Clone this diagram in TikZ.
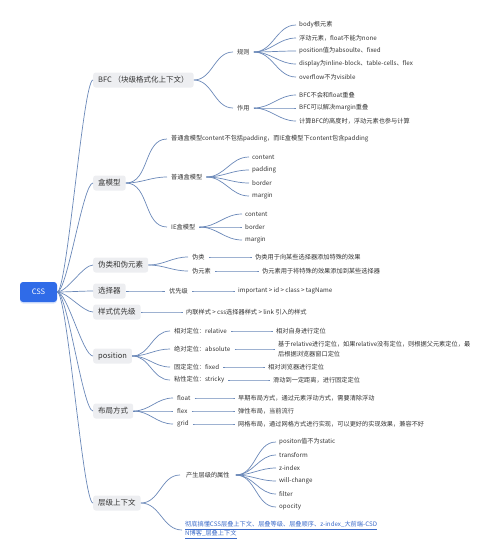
\documentclass[tikz,border=0pt]{standalone}
\usepackage{fontspec}
\usetikzlibrary{shadows}
\setmainfont{Noto Sans CJK SC}
\definecolor{cssblue}{HTML}{2F6BE8}
\definecolor{lonegray}{HTML}{EDEEF1}
\definecolor{txt}{HTML}{333333}
\definecolor{linec}{HTML}{6A88B8}
\definecolor{linkc}{HTML}{3C6BC9}
\begin{document}
\begin{tikzpicture}[x=1pt,y=-1pt,
  rootbox/.style={fill=cssblue,rounded corners=3pt,text=white,minimum width=37pt,minimum height=20pt,inner sep=0pt,font=\fontsize{7.5}{9}\selectfont,drop shadow={shadow xshift=0pt,shadow yshift=-1.5pt,opacity=0.18,fill=cssblue}},
  lone/.style={fill=lonegray,rounded corners=2.5pt,text=txt,inner xsep=5pt,inner ysep=0pt,minimum height=15pt,anchor=west,font=\fontsize{7.5}{9}\selectfont},
  ltwo/.style={text=txt,inner xsep=4pt,inner ysep=1pt,anchor=west,font=\fontsize{6.2}{8}\selectfont},
  leaf/.style={text=txt,inner xsep=3pt,inner ysep=1pt,anchor=west,align=left,font=\fontsize{6.2}{10}\selectfont},
  conn/.style={draw=linec,line width=0.7pt},
  fan/.style={conn,out=0,in=180}]
\useasboundingbox (0,0) rectangle (500,542);
% root
\node[rootbox] (css) at (38.5,292) {CSS};
% level 1
\node[lone] (bfc) at (93,80) {BFC （块级格式化上下文）};
\node[lone] (box) at (93,183) {盒模型};
\node[lone] (pseudo) at (93,265) {伪类和伪元素};
\node[lone] (sel) at (93,291) {选择器};
\node[lone] (prio) at (93,312) {样式优先级};
\node[lone] (pos) at (93,356) {position};
\node[lone] (layout) at (93,411) {布局方式};
\node[lone] (stack) at (93,503) {层级上下文};
\foreach \n in {bfc,box,pseudo,sel,prio,pos,layout,stack}
  \draw[conn] (css.east) .. controls +(10,0) and +(-10,0) .. (\n.west);
% BFC
\node[ltwo] (rule) at (233,52) {规则};
\node[ltwo] (use) at (233,108) {作用};
\draw[fan] (bfc.east) to (rule.west);
\draw[fan] (bfc.east) to (use.west);
\node[leaf] (r1) at (296,25) {body根元素};
\node[leaf] (r2) at (296,38) {浮动元素，float不能为none};
\node[leaf] (r3) at (296,51) {position值为absoulte、fixed};
\node[leaf] (r4) at (296,64) {display为inline-block、table-cells、flex};
\node[leaf] (r5) at (296,77) {overflow不为visible};
\foreach \n in {r1,r2,r3,r4,r5} \draw[fan] (rule.east) to (\n.west);
\node[leaf] (u1) at (296,95) {BFC不会和float重叠};
\node[leaf] (u2) at (296,108) {BFC可以解决margin重叠};
\node[leaf] (u3) at (296,121) {计算BFC的高度时，浮动元素也参与计算};
\foreach \n in {u1,u2,u3} \draw[fan] (use.east) to (\n.west);
% box model
\node[ltwo] (note) at (167,139) {普通盒模型content不包括padding，而IE盒模型下content包含padding};
\node[ltwo] (normal) at (167,177) {普通盒模型};
\node[ltwo] (ie) at (167,227) {IE盒模型};
\foreach \n in {note,normal,ie} \draw[fan] (box.east) to (\n.west);
\node[leaf] (n1) at (249,157) {content};
\node[leaf] (n2) at (249,170) {padding};
\node[leaf] (n3) at (249,183) {border};
\node[leaf] (n4) at (249,196) {margin};
\foreach \n in {n1,n2,n3,n4} \draw[fan] (normal.east) to (\n.west);
\node[leaf] (i1) at (242,214) {content};
\node[leaf] (i2) at (242,227) {border};
\node[leaf] (i3) at (242,240) {margin};
\foreach \n in {i1,i2,i3} \draw[fan] (ie.east) to (\n.west);
% pseudo
\node[ltwo] (pc) at (188,257) {伪类};
\node[ltwo] (pe) at (188,271) {伪元素};
\draw[fan] (pseudo.east) to (pc.west);
\draw[fan] (pseudo.east) to (pe.west);
\node[leaf] (pc1) at (252,257) {伪类用于向某些选择器添加特殊的效果};
\node[leaf] (pe1) at (259,271) {伪元素用于将特殊的效果添加到某些选择器};
\draw[fan] (pc.east) to (pc1.west);
\draw[fan] (pe.east) to (pe1.west);
% selector
\node[ltwo] (sp) at (165,291) {优先级};
\draw[fan] (sel.east) to (sp.west);
\node[leaf] (sp1) at (235,291) {important > id > class > tagName};
\draw[fan] (sp.east) to (sp1.west);
% style priority
\node[leaf] (pr1) at (183,312) {内联样式 > css选择器样式 > link 引入的样式};
\draw[fan] (prio.east) to (pr1.west);
% position
\node[ltwo] (p1) at (170,331) {相对定位：relative};
\node[ltwo] (p2) at (170,349) {绝对定位：absolute};
\node[ltwo] (p3) at (170,367) {固定定位：fixed};
\node[ltwo] (p4) at (170,380) {粘性定位：stricky};
\foreach \n in {p1,p2,p3,p4} \draw[fan] (pos.east) to (\n.west);
\node[leaf] (p1a) at (273,331) {相对自身进行定位};
\node[leaf] (p2a) at (275,349) {基于relative进行定位，如果relative没有定位，则根据父元素定位，最\\后根据浏览器窗口定位};
\node[leaf] (p3a) at (265,367) {相对浏览器进行定位};
\node[leaf] (p4a) at (270,380) {滑动到一定距离，进行固定定位};
\draw[fan] (p1.east) to (p1a.west);
\draw[fan] (p2.east) to (p2a.west);
\draw[fan] (p3.east) to (p3a.west);
\draw[fan] (p4.east) to (p4a.west);
% layout
\node[ltwo] (l1) at (173,398) {float};
\node[ltwo] (l2) at (173,411) {flex};
\node[ltwo] (l3) at (173,424) {grid};
\foreach \n in {l1,l2,l3} \draw[fan] (layout.east) to (\n.west);
\node[leaf] (l1a) at (235,398) {早期布局方式，通过元素浮动方式，需要清除浮动};
\node[leaf] (l2a) at (235,411) {弹性布局，当前流行};
\node[leaf] (l3a) at (235,424) {网格布局，通过网格方式进行实现，可以更好的实现效果，兼容不好};
\draw[fan] (l1.east) to (l1a.west);
\draw[fan] (l2.east) to (l2a.west);
\draw[fan] (l3.east) to (l3a.west);
% stacking context
\node[ltwo,inner xsep=6pt] (sa) at (180,475) {产生层级的属性};
\node[leaf,text=linkc,font=\fontsize{6.2}{9.5}\selectfont] (slink) at (182,530) {\underline{彻底搞懂CSS层叠上下文、层叠等级、层叠顺序、z-index\_大前端-CSD}\\\underline{N博客\_层叠上下文}};
\draw[fan] (stack.east) to (sa.west);
\draw[fan] (stack.east) to (slink.west);
\node[leaf] (s1) at (276,442) {positon值不为static};
\node[leaf] (s2) at (276,455) {transform};
\node[leaf] (s3) at (276,468) {z-index};
\node[leaf] (s4) at (276,481) {will-change};
\node[leaf] (s5) at (276,494) {filter};
\node[leaf] (s6) at (276,507) {opocity};
\foreach \n in {s1,s2,s3,s4,s5,s6} \draw[fan] (sa.east) to (\n.west);
\end{tikzpicture}
\end{document}
